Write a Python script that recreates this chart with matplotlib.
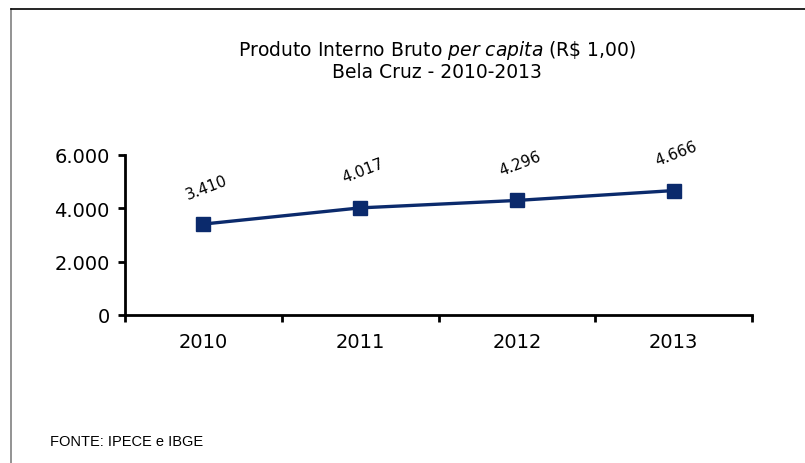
import numpy as np
import matplotlib
matplotlib.use("Agg")
import matplotlib.pyplot as plt
from matplotlib.lines import Line2D

anos = ["2010", "2011", "2012", "2013"]
pib_per_capita = [3410, 4017, 4296, 4666]
rotulos = ["3.410", "4.017", "4.296", "4.666"]
yticks = [0, 2000, 4000, 6000]
ytick_labels = ["0", "2.000", "4.000", "6.000"]

plt.rcParams['font.family'] = ['DejaVu Sans']
plt.rcParams['mathtext.fontset'] = 'dejavusans'

fig = plt.figure(figsize=(8.05, 4.64), dpi=100)
ax = fig.add_axes([125/805, 1-316/464, (752-125)/805, (316-156)/464])

x = np.arange(len(anos))
cor = "#0b2a6c"
ax.plot(x, pib_per_capita, color=cor, lw=2.4, marker="s", markersize=10,
        markerfacecolor=cor, markeredgecolor=cor)

for xi, yi, txt in zip(x, pib_per_capita, rotulos):
    ax.annotate(txt, (xi, yi), xytext=(2, 27), textcoords="offset points",
                ha="center", va="center", rotation=21, fontsize=11)

ax.set_xlim(-0.5, len(anos) - 0.5)
ax.set_ylim(0, 6000)
ax.set_yticks(yticks)
ax.set_yticklabels(ytick_labels)
ax.set_xticks(np.arange(len(anos) + 1) - 0.5)
ax.set_xticklabels([])
ax.set_xticks(x, minor=True)
ax.set_xticklabels(anos, minor=True)
ax.tick_params(axis="x", which="minor", length=0, pad=12, labelsize=14)
ax.tick_params(axis="x", which="major", direction="out", length=5, width=2)
ax.tick_params(axis="y", direction="out", length=5, width=2, labelsize=14, pad=6)

for s in ["top", "right"]:
    ax.spines[s].set_visible(False)
for s in ["left", "bottom"]:
    ax.spines[s].set_linewidth(2)

fig.text(437/805, 1-50/464, r"Produto Interno Bruto $\mathit{per\ capita}$ (R\$ 1,00)",
         ha="center", va="center", fontsize=13.5)
fig.text(437/805, 1-72/464, "Bela Cruz - 2010-2013",
         ha="center", va="center", fontsize=13.5)

fig.text(50/805, 1-442/464, "FONTE: IPECE e IBGE", ha="left", va="center",
         fontsize=10.5, family=["Liberation Sans"])

# moldura
fig.add_artist(Line2D([11/805, 11/805], [0, 1-10/464], color="#808080", lw=1.2,
                      transform=fig.transFigure))
fig.add_artist(Line2D([11/805, 1], [1-10/464, 1-10/464], color="black", lw=1.2,
                      transform=fig.transFigure))

fig.savefig("out.png", dpi=100)
